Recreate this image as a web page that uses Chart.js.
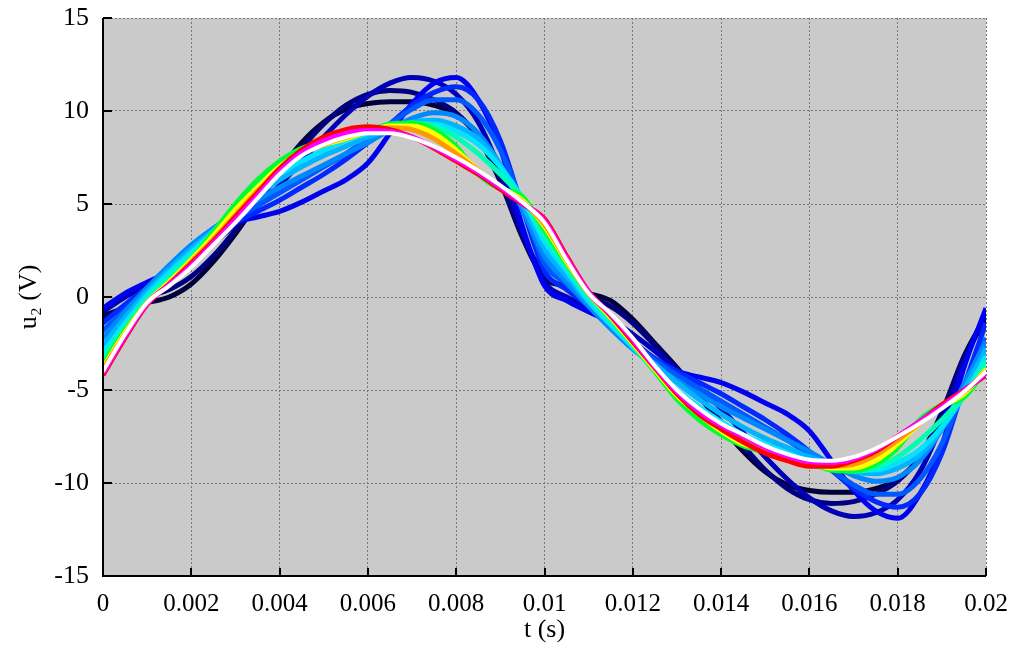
<!DOCTYPE html>
<html>
<head>
<meta charset="utf-8">
<style>
  html, body { margin: 0; padding: 0; background: #fff; }
</style>
<script src="https://cdn.jsdelivr.net/npm/chart.js@4/dist/chart.umd.min.js"></script>
</head>
<body>
<canvas id="u2chart" width="1012" height="646"></canvas>
<script>
// time axis (s), one sample every 0.5 ms
const times = [0, 0.0005, 0.001, 0.0015, 0.002, 0.0025, 0.003, 0.0035, 0.004, 0.0045,
  0.005, 0.0055, 0.006, 0.0065, 0.007, 0.0075, 0.008, 0.0085, 0.009, 0.0095,
  0.01, 0.0105, 0.011, 0.0115, 0.012, 0.0125, 0.013, 0.0135, 0.014, 0.0145,
  0.015, 0.0155, 0.016, 0.0165, 0.017, 0.0175, 0.018, 0.0185, 0.019, 0.0195, 0.02];

const xTicks = [0, 0.002, 0.004, 0.006, 0.008, 0.01, 0.012, 0.014, 0.016, 0.018, 0.02];
const xTickLabels = ['0', '0.002', '0.004', '0.006', '0.008', '0.01', '0.012', '0.014', '0.016', '0.018', '0.02'];
const yTicks = [-15, -10, -5, 0, 5, 10, 15];
const yTickLabels = ['-15', '-10', '-5', '0', '5', '10', '15'];

// u2 (V) curves, oldest (dark) to latest (white)
const u2Navy = [-1.0, -0.6, -0.3, 0.0, 0.7, 1.9, 3.4, 5.1, 6.8, 8.3, 9.4, 10.1, 10.4, 10.5, 10.5, 10.3, 9.8, 8.6, 6.2, 3.2, 1.0,
  0.6, 0.2, -0.2, -1.2, -2.5, -3.8, -5.3, -6.9, -8.3, -9.4, -10.1, -10.4, -10.5, -10.5, -10.3, -9.8, -8.6, -6.2, -3.2, -1.0];
const u2DarkBlue = [-1.2, -0.5, 0.0, 0.4, 1.1, 2.2, 3.6, 5.1, 6.6, 8.0, 9.3, 10.3, 10.9, 11.1, 11.0, 10.6, 9.9, 8.6, 6.3, 3.3, 1.2,
  0.5, 0.0, -0.5, -1.4, -2.6, -3.9, -5.3, -6.7, -8.0, -9.3, -10.3, -10.9, -11.1, -11.0, -10.6, -9.9, -8.6, -6.3, -3.3, -1.2];
const u2MidBlue = [-0.8, 0.0, 0.6, 1.2, 2.0, 2.9, 3.9, 4.9, 6.0, 7.3, 8.6, 9.8, 10.8, 11.5, 11.8, 11.6, 10.9, 9.4, 6.8, 3.5, 0.8,
  0.0, -0.6, -1.2, -2.0, -2.9, -3.9, -4.9, -6.0, -7.3, -8.6, -9.8, -10.8, -11.5, -11.8, -11.6, -10.9, -9.4, -6.8, -3.5, -0.8];
const u2Blue = [-0.6, 0.2, 0.8, 1.4, 2.4, 3.4, 4.0, 4.3, 4.6, 5.1, 5.7, 6.3, 7.2, 8.8, 10.4, 11.5, 11.8, 10.6, 8.0, 3.8, 0.6,
  -0.2, -0.8, -1.4, -2.4, -3.4, -4.0, -4.3, -4.6, -5.1, -5.7, -6.3, -7.2, -8.8, -10.4, -11.5, -11.9, -10.6, -8.0, -3.8, -0.6];
const u2RoyalBlue = [-1.4, -0.4, 0.5, 1.4, 2.4, 3.3, 4.0, 4.6, 5.2, 5.9, 6.6, 7.4, 8.3, 9.3, 10.3, 11.0, 11.3, 10.6, 8.4, 4.8, 1.4,
  0.4, -0.5, -1.4, -2.4, -3.3, -4.0, -4.6, -5.2, -5.9, -6.6, -7.4, -8.3, -9.3, -10.3, -11.0, -11.3, -10.6, -8.4, -4.8, -1.4];
const u2Azure = [-1.8, -0.7, 0.4, 1.5, 2.5, 3.4, 4.2, 4.9, 5.6, 6.3, 7.0, 7.7, 8.5, 9.3, 10.1, 10.6, 10.6, 9.8, 7.9, 5.0, 1.8,
  0.7, -0.4, -1.5, -2.5, -3.4, -4.2, -4.9, -5.6, -6.3, -7.0, -7.7, -8.5, -9.3, -10.1, -10.6, -10.6, -9.8, -7.9, -5.0, -2.2];
const u2SkyBlue = [-2.2, -0.8, 0.5, 1.7, 2.8, 3.7, 4.5, 5.2, 5.9, 6.5, 7.1, 7.7, 8.3, 9.0, 9.6, 9.9, 9.7, 8.8, 7.1, 4.7, 2.2,
  0.8, -0.5, -1.7, -2.8, -3.7, -4.5, -5.2, -5.9, -6.5, -7.1, -7.7, -8.3, -9.0, -9.6, -9.9, -9.7, -8.8, -7.1, -4.7, -2.4];
const u2LightBlue = [-2.6, -1.1, 0.3, 1.5, 2.6, 3.6, 4.6, 5.5, 6.3, 7.0, 7.6, 8.1, 8.6, 9.0, 9.4, 9.5, 9.2, 8.5, 7.1, 5.0, 2.6,
  1.1, -0.3, -1.5, -2.6, -3.6, -4.6, -5.5, -6.3, -7.0, -7.6, -8.1, -8.6, -9.0, -9.4, -9.5, -9.2, -8.5, -7.1, -5.0, -2.8];
const u2Cyan = [-3.0, -1.4, 0.1, 1.3, 2.4, 3.5, 4.7, 5.7, 6.6, 7.3, 7.9, 8.4, 8.8, 9.1, 9.3, 9.3, 8.9, 8.2, 7.0, 5.3, 3.0,
  1.4, -0.2, -1.5, -2.7, -3.9, -5.0, -5.9, -6.7, -7.4, -7.9, -8.4, -8.8, -9.1, -9.3, -9.3, -8.9, -8.2, -7.0, -5.3, -3.2];
const u2Aqua = [-3.3, -1.6, -0.1, 1.1, 2.2, 3.5, 4.9, 6.1, 7.0, 7.7, 8.2, 8.6, 8.9, 9.2, 9.35, 9.2, 8.6, 7.7, 6.6, 5.3, 3.3,
  1.6, 0.0, -1.3, -2.6, -4.0, -5.3, -6.3, -7.1, -7.7, -8.2, -8.6, -8.9, -9.2, -9.35, -9.2, -8.6, -7.7, -6.6, -5.3, -3.5];
const u2Green = [-3.6, -1.8, -0.3, 0.8, 2.0, 3.5, 5.0, 6.3, 7.3, 8.0, 8.3, 8.5, 8.9, 9.3, 9.35, 9.0, 8.1, 6.6, 5.8, 5.4, 3.6,
  1.8, 0.2, -1.1, -2.5, -4.0, -5.5, -6.6, -7.4, -8.0, -8.3, -8.5, -8.9, -9.3, -9.35, -9.0, -8.1, -6.6, -5.8, -5.4, -3.9];
const u2Yellow = [-3.8, -1.9, -0.3, 0.8, 2.0, 3.3, 4.7, 5.9, 7.0, 7.8, 8.2, 8.5, 8.9, 9.2, 9.2, 8.8, 7.9, 6.8, 5.9, 5.2, 3.8,
  1.9, 0.2, -1.1, -2.5, -3.9, -5.3, -6.3, -7.2, -7.9, -8.2, -8.5, -8.9, -9.2, -9.2, -8.8, -7.9, -6.8, -5.9, -5.2, -3.9];
const u2Orange = [-3.9, -2.0, -0.3, 0.7, 1.9, 3.1, 4.4, 5.7, 6.8, 7.7, 8.2, 8.6, 8.9, 9.1, 9.0, 8.5, 7.7, 6.8, 5.9, 5.1, 3.9,
  2.0, 0.2, -1.0, -2.4, -3.8, -5.1, -6.2, -7.0, -7.7, -8.2, -8.6, -8.9, -9.1, -9.0, -8.5, -7.7, -6.8, -5.9, -5.1, -4.0];
const u2Red = [-4.2, -2.2, -0.4, 0.7, 1.8, 3.0, 4.3, 5.6, 6.9, 7.9, 8.6, 9.0, 9.15, 9.0, 8.6, 8.0, 7.3, 6.6, 5.8, 5.0, 4.2,
  2.2, 0.3, -1.0, -2.4, -3.8, -5.2, -6.3, -7.1, -7.8, -8.4, -8.8, -9.1, -9.1, -8.8, -8.3, -7.5, -6.7, -5.8, -5.0, -4.2];
const u2Magenta = [-4.1, -2.1, -0.35, 0.65, 1.7, 2.9, 4.15, 5.45, 6.75, 7.75, 8.4, 8.8, 8.95, 8.9, 8.6, 8.05, 7.4, 6.7, 5.9, 5.05, 4.1,
  2.1, 0.25, -0.95, -2.3, -3.75, -5.1, -6.15, -6.9, -7.5, -8.1, -8.55, -8.85, -8.9, -8.7, -8.2, -7.5, -6.7, -5.9, -5.05, -4.1];
const u2White = [-4.0, -2.0, -0.3, 0.6, 1.6, 2.8, 4.0, 5.3, 6.6, 7.6, 8.2, 8.6, 8.8, 8.8, 8.55, 8.1, 7.5, 6.8, 6.0, 5.1, 4.0,
  2.0, 0.2, -0.9, -2.2, -3.7, -5.0, -6.0, -6.8, -7.4, -8.0, -8.45, -8.75, -8.8, -8.6, -8.15, -7.5, -6.8, -6.0, -5.1, -4.0];

const curves = [u2Navy, u2DarkBlue, u2MidBlue, u2Blue, u2RoyalBlue, u2Azure, u2SkyBlue, u2LightBlue,
  u2Cyan, u2Aqua, u2Green, u2Yellow, u2Orange, u2Red, u2Magenta, u2White];
const curveColors = ['#00003c', '#000080', '#0000b8', '#0000f0', '#0028ff', '#0058ff', '#0088ff', '#00b4ff',
  '#00e4ff', '#00ffb4', '#00ff30', '#ffff00', '#ff9900', '#ff0000', '#ff00ff', '#ffffff'];
const curveWidths = [5, 5, 5, 5, 5, 5, 5, 5, 5, 5, 5, 5, 5, 5, 5, 4];

const serif = 'Liberation Serif, Times New Roman, serif';

// plot background, solid left/bottom axes and inward tick marks
const frame = {
  id: 'frame',
  beforeDraw(chart) {
    const { ctx, chartArea: a } = chart;
    ctx.save();
    ctx.fillStyle = '#cacaca';
    ctx.fillRect(a.left, a.top, a.right - a.left, a.bottom - a.top);
    ctx.restore();
  },
  afterDatasetsDraw(chart) {
    const { ctx, chartArea: a, scales: { x, y } } = chart;
    ctx.save();
    ctx.strokeStyle = '#000';
    ctx.lineWidth = 2;
    ctx.beginPath();
    ctx.moveTo(a.left, a.top);
    ctx.lineTo(a.left, a.bottom);
    ctx.lineTo(a.right, a.bottom);
    yTicks.forEach(v => {
      const py = Math.round(y.getPixelForValue(v));
      ctx.moveTo(a.left, py);
      ctx.lineTo(a.left + 9, py);
    });
    xTicks.forEach(v => {
      const px = Math.round(x.getPixelForValue(v));
      ctx.moveTo(px, a.bottom);
      ctx.lineTo(px, a.bottom - 8);
    });
    ctx.stroke();
    ctx.restore();
  }
};

const datasets = curves.map((vals, i) => ({
  data: times.map((t, k) => ({ x: t, y: vals[k] })),
  borderColor: curveColors[i],
  borderWidth: curveWidths[i],
  pointRadius: 0,
  fill: false,
  cubicInterpolationMode: 'monotone',
  order: curves.length - i
}));

new Chart(document.getElementById('u2chart'), {
  type: 'line',
  data: { datasets },
  options: {
    responsive: false,
    animation: false,
    devicePixelRatio: 1,
    layout: { padding: { left: 0, right: 26, top: 18, bottom: 0 } },
    plugins: { legend: { display: false }, tooltip: { enabled: false } },
    scales: {
      x: {
        type: 'linear',
        min: 0,
        max: 0.02,
        afterBuildTicks: s => { s.ticks = xTicks.map(v => ({ value: v })); },
        afterFit: s => { s.height = 70; s.paddingLeft = 0; s.paddingRight = 0; },
        ticks: {
          callback: (v, i) => xTickLabels[i],
          autoSkip: false,
          maxRotation: 0,
          padding: 13,
          color: '#000',
          font: { family: serif, size: 25 }
        },
        grid: { color: '#777', lineWidth: 1, drawTicks: false },
        border: { display: false, dash: [2, 2] },
        title: {
          display: true,
          text: 't (s)',
          color: '#000',
          font: { family: serif, size: 26 },
          padding: { top: 0, bottom: 0 }
        }
      },
      y: {
        min: -15,
        max: 15,
        afterBuildTicks: s => { s.ticks = yTicks.map(v => ({ value: v })); },
        afterFit: s => { s.width = 103; s.paddingTop = 0; s.paddingBottom = 0; },
        ticks: {
          callback: (v, i) => yTickLabels[i],
          padding: 14,
          color: '#000',
          font: { family: serif, size: 26 }
        },
        grid: { color: '#777', lineWidth: 1, drawTicks: false },
        border: { display: false, dash: [2, 2] },
        title: {
          display: true,
          text: 'u₂ (V)',
          color: '#000',
          font: { family: serif, size: 26 },
          padding: { top: 14, bottom: 0 }
        }
      }
    }
  },
  plugins: [frame]
});
</script>
</body>
</html>
